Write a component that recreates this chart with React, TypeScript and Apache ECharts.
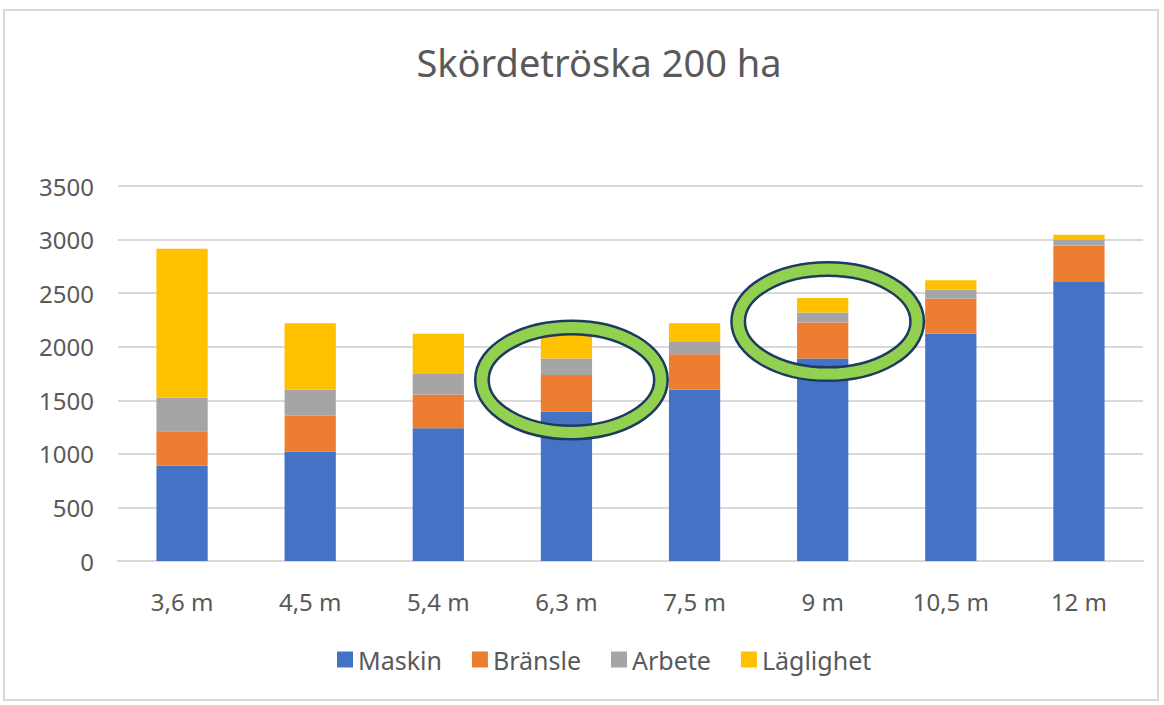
import React, { useEffect, useRef } from "react";
import * as echarts from "echarts";

const categories = ["3,6 m", "4,5 m", "5,4 m", "6,3 m", "7,5 m", "9 m", "10,5 m", "12 m"];
const maskin = [890, 1020, 1240, 1395, 1600, 1890, 2120, 2610];
const bransle = [320, 335, 315, 340, 330, 335, 330, 335];
const arbete = [315, 245, 190, 155, 115, 95, 85, 55];
const laglighet = [1390, 620, 375, 220, 175, 135, 85, 45];
const seriesNames = ["Maskin", "Bränsle", "Arbete", "Läglighet"];
const colors = ["#4472c4", "#ed7d31", "#a5a5a5", "#ffc000"];
// annotation ellipses: [category, value at centre]
const highlights: [string, number][] = [["6,3 m", 1690], ["9 m", 2235]];

const FONT = "'Noto Sans', sans-serif";

export default function App() {
  const ref = useRef<HTMLDivElement>(null);
  useEffect(() => {
    document.body.style.margin = "0";
    if (!ref.current) return;
    const chart = echarts.init(ref.current, undefined, { renderer: "svg" });
    const data = [maskin, bransle, arbete, laglighet];
    const border = {
      type: "rect",
      shape: { x: 4, y: 10, width: 1154, height: 690 },
      style: { fill: "none", stroke: "#d9d9d9", lineWidth: 2 },
      silent: true,
    };
    chart.setOption({
      animation: false,
      color: colors,
      title: {
        text: "Skördetröska 200 ha",
        left: 594,
        textAlign: "center",
        top: 38,
        textStyle: { fontFamily: FONT, fontSize: 38, fontWeight: "normal", color: "#595959" },
      },
      legend: {
        data: seriesNames,
        bottom: 28,
        left: 332,
        icon: "rect",
        itemWidth: 16,
        itemHeight: 16,
        itemGap: 30,
        textStyle: { fontFamily: FONT, fontSize: 25, color: "#595959" },
      },
      grid: { left: 118, right: 21, top: 186, bottom: 144, containLabel: false },
      xAxis: {
        type: "category",
        data: categories,
        axisLine: { lineStyle: { color: "#d9d9d9", width: 2 } },
        axisTick: { show: false },
        axisLabel: { fontFamily: FONT, fontSize: 24, color: "#595959", margin: 28 },
      },
      yAxis: {
        type: "value",
        min: 0,
        max: 3500,
        interval: 500,
        axisLine: { show: false },
        axisTick: { show: false },
        splitLine: { lineStyle: { color: "#d9d9d9", width: 2 } },
        axisLabel: {
          fontFamily: FONT,
          fontSize: 24,
          color: "#595959",
          margin: 24,
          formatter: (v: number) => String(v),
        },
      },
      series: seriesNames.map((name, i) => ({
        name,
        type: "bar",
        stack: "total",
        data: data[i],
        barWidth: "40%",
        itemStyle: { color: colors[i] },
      })),
      graphic: [border],
    });
    const ellipses: any[] = [];
    highlights.forEach(([cat, val], k) => {
      const p = chart.convertToPixel({ gridIndex: 0 }, [cat, val]) as number[];
      const cx = p[0] + 5;
      const cy = p[1];
      ellipses.push({
        type: "ellipse",
        id: "eo" + k,
        shape: { cx, cy, rx: 89.5, ry: 52.5 },
        style: { fill: "none", stroke: "#1f3a5f", lineWidth: 16 },
        z: 100,
        silent: true,
      });
      ellipses.push({
        type: "ellipse",
        id: "eg" + k,
        shape: { cx, cy, rx: 89.5, ry: 52.5 },
        style: { fill: "none", stroke: "#92d050", lineWidth: 11 },
        z: 101,
        silent: true,
      });
    });
    chart.setOption({ graphic: [border, ...ellipses] });
    return () => chart.dispose();
  }, []);
  return <div ref={ref} style={{ width: 1164, height: 705 }} />;
}
